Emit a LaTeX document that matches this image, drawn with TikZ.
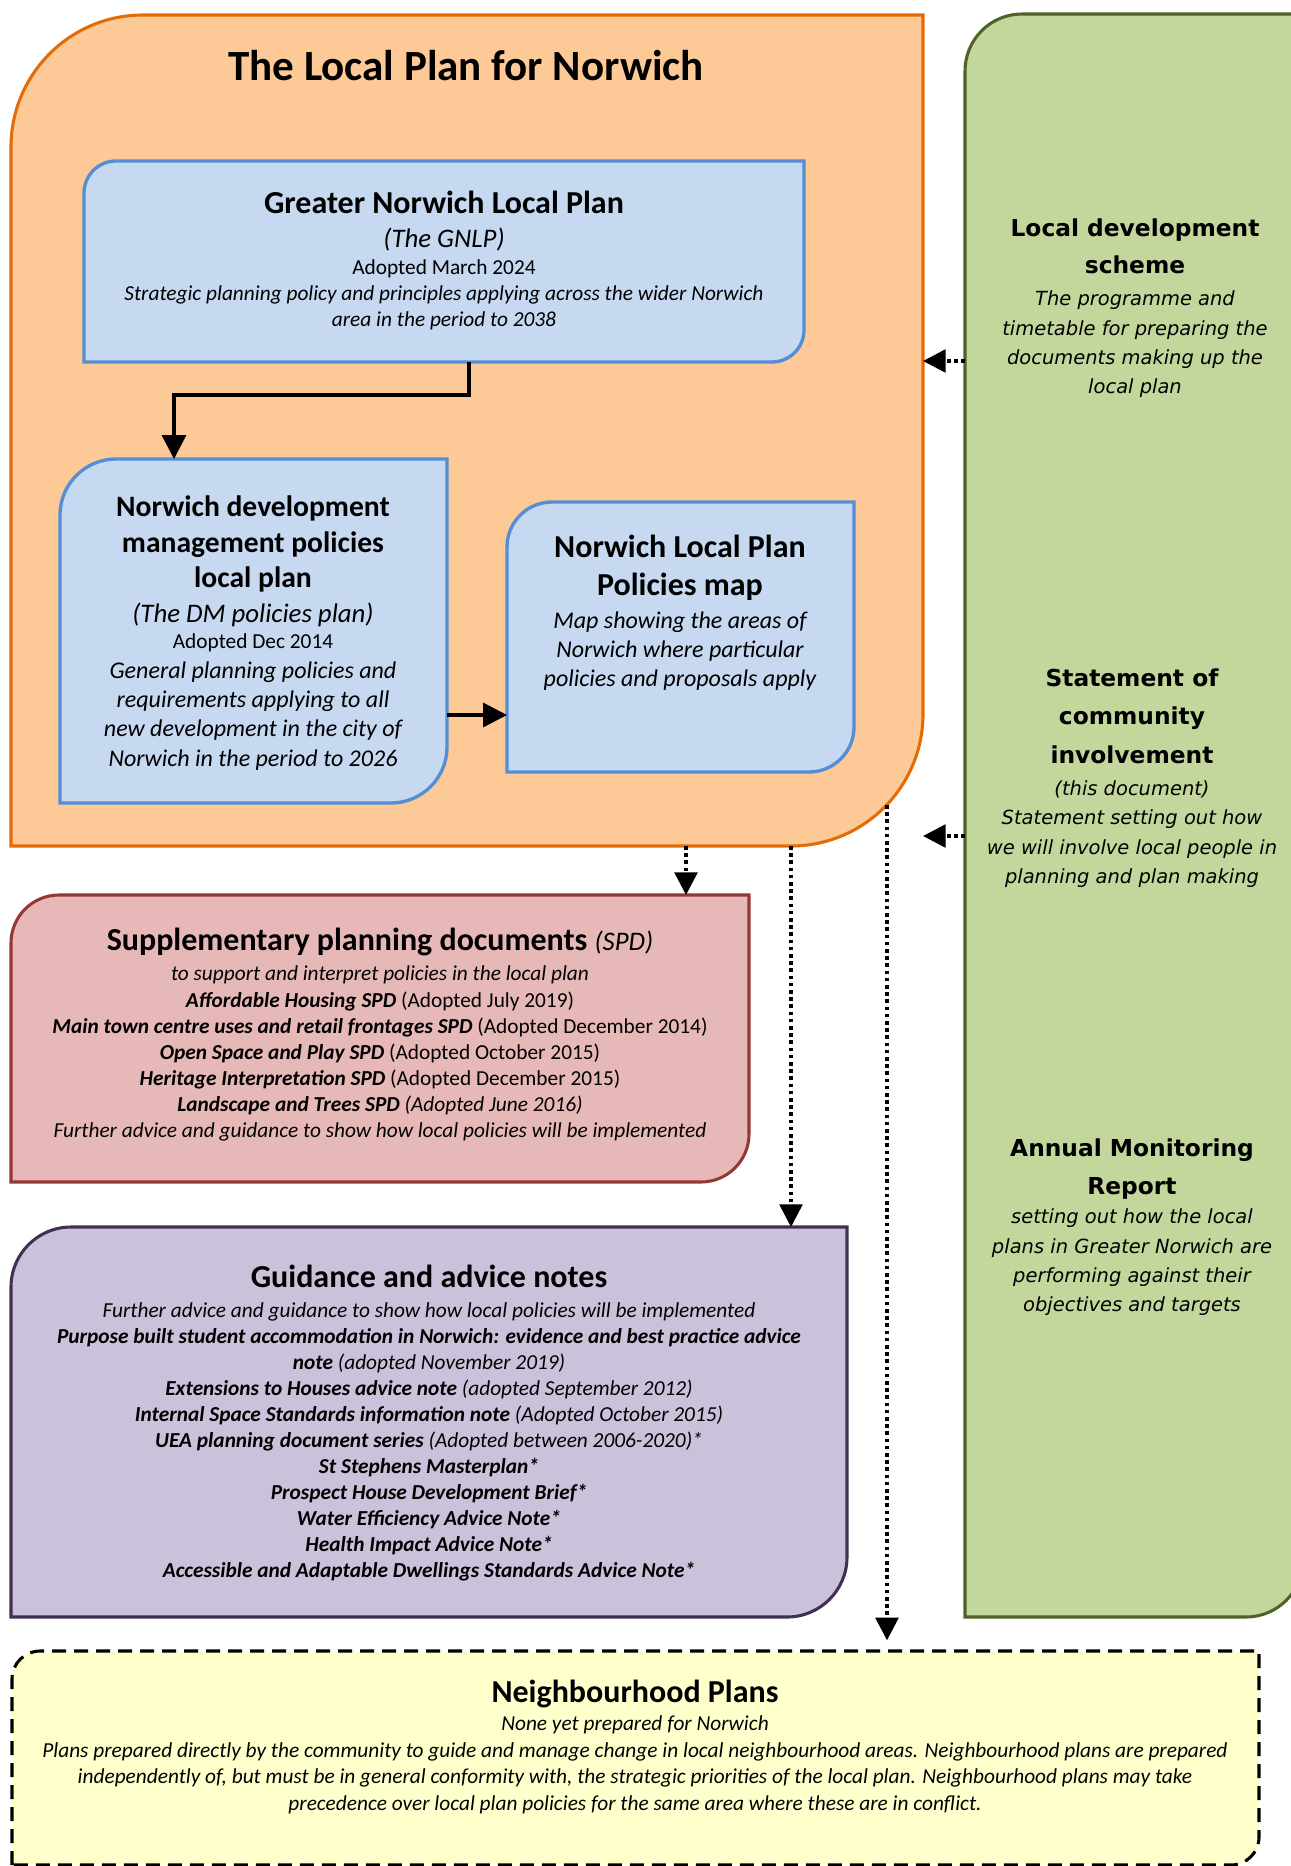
\documentclass[tikz,border=0pt]{standalone}
\usepackage{fontspec}
\setmainfont{Carlito}
\newfontfamily\verd{DejaVu Sans}
\usetikzlibrary{arrows.meta,calc,fit}
\definecolor{lpfill}{HTML}{FCC997}
\definecolor{lpline}{HTML}{E36C09}
\definecolor{bfill}{HTML}{C6D9F1}
\definecolor{bline}{HTML}{558ED5}
\definecolor{gfill}{HTML}{C3D69B}
\definecolor{gline}{HTML}{4F6228}
\definecolor{pfill}{HTML}{E6B9B8}
\definecolor{pline}{HTML}{953735}
\definecolor{vfill}{HTML}{CCC1DA}
\definecolor{vline}{HTML}{403152}
\definecolor{yfill}{HTML}{FFFFCC}
\newcommand\diagrect[3]{%
  \path[#1] (#2.south west) -- ($(#2.north west)+(0,#3)$)
    .. controls ($(#2.north west)+(0,0.448*#3)$) and ($(#2.north west)+(0.448*#3,0)$) .. ($(#2.north west)+(#3,0)$)
    -- (#2.north east) -- ($(#2.south east)-(0,#3)$)
    .. controls ($(#2.south east)-(0,0.448*#3)$) and ($(#2.south east)-(0.448*#3,0)$) .. ($(#2.south east)-(#3,0)$)
    -- cycle;}
\tikzset{
  frame/.style={draw=none, inner sep=0pt, outer sep=0pt},
  lpshape/.style={fill=lpfill, draw=lpline, line width=2.3pt},
  gshape/.style={fill=gfill, draw=gline, line width=2.3pt},
  bshape/.style={fill=bfill, draw=bline, line width=2.5pt},
  pshape/.style={fill=pfill, draw=pline, line width=2.3pt},
  vshape/.style={fill=vfill, draw=vline, line width=2.3pt},
  yshape/.style={fill=yfill, draw=black, line width=2.3pt, dash pattern=on 10.5pt off 6pt},
  conn/.style={line width=2.6pt, -{Triangle[length=18pt,width=18pt]}},
  dconn/.style={line width=2.7pt, dash pattern=on 2.7pt off 2.7pt, -{Triangle[length=17pt,width=17pt]}},
  ln/.style={inner sep=0pt, anchor=base},
  ttl/.style={ln, font=\fontsize{32.3}{37}\selectfont\bfseries},
  hd/.style={ln, font=\fontsize{24}{28}\selectfont\bfseries},
  hds/.style={ln, font=\fontsize{22.2}{26}\selectfont\bfseries},
  sub/.style={ln, font=\fontsize{20.1}{24}\selectfont\itshape},
  txt/.style={ln, font=\fontsize{16}{19}\selectfont},
  txi/.style={ln, font=\fontsize{16}{19}\selectfont\itshape},
  txl/.style={ln, font=\fontsize{18}{21}\selectfont\itshape},
  gh/.style={ln, font=\verd\fontsize{17.5}{21}\selectfont\bfseries},
  gi/.style={ln, font=\verd\fontsize{14.6}{17}\selectfont\itshape},
}
\begin{document}
\begin{tikzpicture}[x=0.75pt,y=-0.75pt]
\useasboundingbox (0,0) rectangle (1291,1866);
% frames
\node[frame, fit={(11,15) (923,846)}] (lp) {};
\node[frame, fit={(965,14) (1303,1617)}] (green) {};
\node[frame, fit={(84,161) (804,362)}] (gnlp) {};
\node[frame, fit={(60,459) (447,803)}] (dm) {};
\node[frame, fit={(507,502) (854,772)}] (map) {};
\node[frame, fit={(11,895) (749,1182)}] (spd) {};
\node[frame, fit={(11,1227) (847,1617)}] (guid) {};
\node[frame, fit={(12,1651) (1259,1865)}] (nb) {};
% shapes
\diagrect{lpshape}{lp}{132}
\diagrect{gshape}{green}{57}
\diagrect{bshape}{gnlp}{32}
\diagrect{bshape}{dm}{56}
\diagrect{bshape}{map}{45}
\diagrect{pshape}{spd}{48}
\diagrect{vshape}{guid}{60}
\diagrect{yshape}{nb}{28}
% connectors
\coordinate (jA) at (469,395);
\coordinate (jB) at (174,395);
\draw[conn] (gnlp.south -| jA) |- (jB) -- (dm.north -| jB);
\coordinate (yk) at (0,715);
\draw[conn] (dm.east |- yk) -- (map.west |- yk);
\coordinate (xs) at (686,0);
\coordinate (xg) at (791,0);
\coordinate (xn) at (887,805);
\draw[dconn] (lp.south -| xs) -- (spd.north -| xs);
\draw[dconn] (lp.south -| xg) -- (guid.north -| xg);
\draw[dconn, shorten >=8pt] (xn) -- (nb.north -| xn);
\coordinate (yg1) at (0,361);
\coordinate (yg2) at (0,836);
\draw[dconn] (green.west |- yg1) -- (lp.east |- yg1);
\draw[dconn] (green.west |- yg2) -- (lp.east |- yg2);
% title
\node[ttl] (t0) at (466,80) {The Local Plan for Norwich};
% GNLP
\node[hd] (g1) at (444,213) {Greater Norwich Local Plan};
\node[sub] (g2) at (444,247) {(The GNLP)};
\node[txt] (g3) at (444,274) {Adopted March 2024};
\node[txi] (g4) at (444,300) {Strategic planning policy and principles applying across the wider Norwich};
\node[txi] (g5) at (444,326) {area in the period to 2038};
% DM
\node[hds] (d1) at (253,516) {Norwich development};
\node[hds] (d2) at (253,552) {management policies};
\node[hds] (d3) at (253,587) {local plan};
\node[sub] (d4) at (253,622) {(The DM policies plan)};
\node[txt] (d5) at (253,648) {Adopted Dec 2014};
\node[txl] (d6) at (253,678) {General planning policies and};
\node[txl] (d7) at (253,707) {requirements applying to all};
\node[txl] (d8) at (253,736) {new development in the city of};
\node[txl] (d9) at (253,766) {Norwich in the period to 2026};
% Map
\node[hd] (m1) at (680,557) {Norwich Local Plan};
\node[hd] (m2) at (680,595) {Policies map};
\node[txl] (m3) at (680,628) {Map showing the areas of};
\node[txl] (m4) at (680,657) {Norwich where particular};
\node[txl] (m5) at (680,686) {policies and proposals apply};
% SPD
\node[hd] (s1) at (380,950) {Supplementary planning documents {\mdseries\itshape\fontsize{20.1}{24}\selectfont (SPD)}};
\node[txi] (s2) at (380,980) {to support and interpret policies in the local plan};
\node[txt] (s3) at (380,1007) {\textbf{\textit{Affordable Housing SPD}} (Adopted July 2019)};
\node[txt] (s4) at (380,1033) {\textbf{\textit{Main town centre uses and retail frontages SPD}} (Adopted December 2014)};
\node[txt] (s5) at (380,1059) {\textbf{\textit{Open Space and Play SPD}} (Adopted October 2015)};
\node[txt] (s6) at (380,1085) {\textbf{\textit{Heritage Interpretation SPD}} (Adopted December 2015)};
\node[txt] (s7) at (380,1111) {\textbf{\textit{Landscape and Trees SPD}} \textit{(Adopted June 2016)}};
\node[txi] (s8) at (380,1137) {Further advice and guidance to show how local policies will be implemented};
% Guidance
\node[hd] (a1) at (429,1287) {Guidance and advice notes};
\node[txi] (a2) at (429,1317) {Further advice and guidance to show how local policies will be implemented};
\node[txi] (a3) at (429,1343) {\bfseries Purpose built student accommodation in Norwich: evidence and best practice advice};
\node[txi] (a4) at (429,1369) {\textbf{note} (adopted November 2019)};
\node[txi] (a5) at (429,1395) {\textbf{Extensions to Houses advice note} (adopted September 2012)};
\node[txi] (a6) at (429,1421) {\textbf{Internal Space Standards information note} (Adopted October 2015)};
\node[txi] (a7) at (429,1447) {\textbf{UEA planning document series} (Adopted between 2006-2020)*};
\node[txi] (a8) at (429,1473) {\bfseries St Stephens Masterplan*};
\node[txi] (a9) at (429,1499) {\bfseries Prospect House Development Brief*};
\node[txi] (a10) at (429,1525) {\bfseries Water Efficiency Advice Note*};
\node[txi] (a11) at (429,1551) {\bfseries Health Impact Advice Note*};
\node[txi] (a12) at (429,1577) {\bfseries Accessible and Adaptable Dwellings Standards Advice Note*};
% Neighbourhood
\node[hd] (n1) at (635,1702) {Neighbourhood Plans};
\node[txi] (n2) at (635,1730) {None yet prepared for Norwich};
\node[txi] (n3) at (635,1757) {Plans prepared directly by the community to guide and manage change in local neighbourhood areas. Neighbourhood plans are prepared};
\node[txi] (n4) at (635,1783) {independently of, but must be in general conformity with, the strategic priorities of the local plan. Neighbourhood plans may take};
\node[txi] (n5) at (635,1810) {precedence over local plan policies for the same area where these are in conflict.};
% Green: LDS
\node[gh] (l1) at (1135,236) {Local development};
\node[gh] (l2) at (1135,273) {scheme};
\node[gi] (l3) at (1135,305) {The programme and};
\node[gi] (l4) at (1135,335) {timetable for preparing the};
\node[gi] (l5) at (1135,364) {documents making up the};
\node[gi] (l6) at (1135,393) {local plan};
% Green: SCI
\node[gh] (c1) at (1132,686) {Statement of};
\node[gh] (c2) at (1132,724) {community};
\node[gh] (c3) at (1132,763) {involvement};
\node[gi] (c4) at (1132,795) {(this document)};
\node[gi] (c5) at (1132,824) {Statement setting out how};
\node[gi] (c6) at (1132,854) {we will involve local people in};
\node[gi] (c7) at (1132,883) {planning and plan making};
% Green: AMR
\node[gh] (r1) at (1132,1156) {Annual Monitoring};
\node[gh] (r2) at (1132,1194) {Report};
\node[gi] (r3) at (1132,1223) {setting out how the local};
\node[gi] (r4) at (1132,1253) {plans in Greater Norwich are};
\node[gi] (r5) at (1132,1282) {performing against their};
\node[gi] (r6) at (1132,1311) {objectives and targets};
\end{tikzpicture}
\end{document}
